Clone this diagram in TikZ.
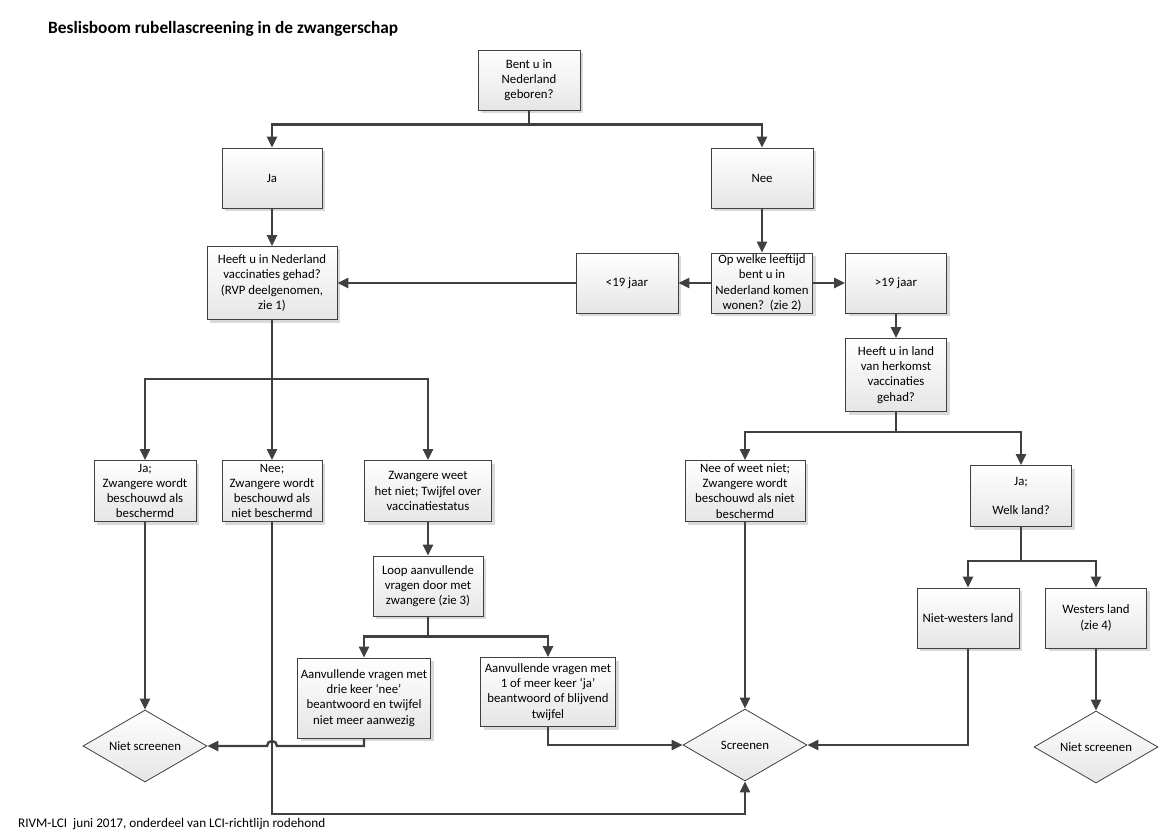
\documentclass[tikz,border=0pt]{standalone}
\usepackage{fontspec}
\setmainfont{Carlito}
\usetikzlibrary{shapes.geometric,arrows.meta,shadows,calc}

\tikzset{
  box/.style={draw=black!75, line width=0.8pt, top color=white, bottom color=black!10,
    drop shadow={shadow xshift=3pt, shadow yshift=-3pt, fill=black!15, opacity=1},
    align=center, inner xsep=2pt, inner ysep=0pt, font=\fontsize{12.8}{15.2}\selectfont},
  keuze/.style={diamond, draw=black!75, line width=0.8pt, top color=white, bottom color=black!10,
    aspect=1.72, inner sep=0pt, minimum width=124pt, minimum height=72pt,
    font=\fontsize{12.8}{15.2}\selectfont},
  lijn/.style={draw=black!75, line width=2.4pt},
  pijl/.style={lijn, -{Triangle[length=11pt,width=10pt]}},
}

\begin{document}
\begin{tikzpicture}[x=1pt,y=-1pt]
\useasboundingbox (0,0) rectangle (1159,834);
\node[anchor=west, inner sep=0pt, font=\fontsize{17.3}{20}\selectfont\bfseries] (titel) at (48,29) {Beslisboom rubellascreening in de zwangerschap};
\node[anchor=west, inner sep=0pt, font=\fontsize{13.2}{15}\selectfont] (voet) at (18,824) {RIVM-LCI\ \ juni 2017, onderdeel van LCI-richtlijn rodehond};

% eerste vraag
\node[box, minimum width=102pt, minimum height=60pt] (geboren) at (529,80) {Bent u in\\Nederland\\geboren?};
\node[box, minimum width=100pt, minimum height=60pt] (ja) at (272,178) {Ja};
\node[box, minimum width=102pt, minimum height=60pt] (nee) at (762,178) {Nee};

% linker tak
\node[box, minimum width=130pt, minimum height=73pt] (heeftNL) at (272,283) {Heeft u in Nederland\\vaccinaties gehad?\\(RVP deelgenomen,\\zie 1)};
\node[box, minimum width=102pt, minimum height=61pt] (beschermd) at (145,491) {Ja;\\Zwangere wordt\\beschouwd als\\beschermd};
\node[box, minimum width=100pt, minimum height=61pt] (nietbeschermd) at (272,491) {Nee;\\Zwangere wordt\\beschouwd als\\niet beschermd};
\node[box, minimum width=127pt, minimum height=61pt] (weetniet) at (428,491) {Zwangere weet\\het niet; Twijfel over\\vaccinatiestatus};
\node[box, minimum width=110pt, minimum height=60pt] (loop) at (428,586) {Loop aanvullende\\vragen door met\\zwangere (zie 3)};
\node[box, minimum width=133pt, minimum height=80pt] (drienee) at (364,698) {Aanvullende vragen met\\drie keer ‘nee’\\beantwoord en twijfel\\niet meer aanwezig};
\node[box, minimum width=135pt, minimum height=69pt] (meerja) at (548,692) {Aanvullende vragen met\\1 of meer keer ‘ja’\\beantwoord of blijvend\\twijfel};

% rechter tak
\node[box, minimum width=102pt, minimum height=60pt] (jonger) at (627,283) {<19 jaar};
\node[box, minimum width=101pt, minimum height=60pt] (leeftijd) at (762,283) {Op welke leeftijd\\bent u in\\Nederland komen\\wonen?\ \ (zie 2)};
\node[box, minimum width=101pt, minimum height=60pt] (ouder) at (896,283) {>19 jaar};
\node[box, minimum width=101pt, minimum height=73pt] (herkomst) at (896,375) {Heeft u in land\\van herkomst\\vaccinaties\\gehad?};
\node[box, minimum width=120pt, minimum height=61pt] (neeweetniet) at (745,491) {Nee of weet niet;\\Zwangere wordt\\beschouwd als niet\\beschermd};
\node[box, minimum width=101pt, minimum height=61pt] (welkland) at (1021,496) {Ja;\\[14pt]Welk land?};
\node[box, minimum width=102pt, minimum height=60pt] (nietwesters) at (968,618) {Niet-westers land};
\node[box, minimum width=101pt, minimum height=60pt] (westers) at (1096,618) {Westers land\\(zie 4)};

% uitkomsten
\node[keuze] (nietL) at (145,746) {Niet screenen};
\node[keuze] (screen) at (745,745) {Screenen};
\node[keuze] (nietR) at (1096,747) {Niet screenen};

% verbindingen
\draw[lijn] (geboren.south) -- ++(0,14) coordinate (t1);
\draw[pijl] (t1) -| (ja.north);
\draw[pijl] (t1) -| (nee.north);
\draw[pijl] (ja.south) -- (heeftNL.north);
\draw[pijl] (nee.south) -- (leeftijd.north);
\draw[pijl] (leeftijd.west) -- (jonger.east);
\draw[pijl] (leeftijd.east) -- (ouder.west);
\draw[pijl] (jonger.west) -- (heeftNL.east);
\draw[pijl] (ouder.south) -- (herkomst.north);

\draw[lijn] (heeftNL.south) -- ++(0,59) coordinate (t2);
\draw[pijl] (t2) -| (beschermd.north);
\draw[pijl] (t2) -- (nietbeschermd.north);
\draw[pijl] (t2) -| (weetniet.north);
\draw[pijl] (weetniet.south) -- (loop.north);
\draw[lijn] (loop.south) -- ++(0,20) coordinate (t3);
\draw[pijl] (t3) -| (drienee.north);
\draw[pijl] (t3) -| (meerja.north);

\draw[lijn] (herkomst.south) -- ++(0,20) coordinate (t4);
\draw[pijl] (t4) -| (neeweetniet.north);
\draw[pijl] (t4) -| (welkland.north);
\draw[lijn] (welkland.south) -- ++(0,34) coordinate (t5);
\draw[pijl] (t5) -| (nietwesters.north);
\draw[pijl] (t5) -| (westers.north);

\draw[pijl] (beschermd.south) -- (nietL.north);
\draw[pijl] (drienee.south) |- ($(nietbeschermd.south |- nietL.east)+(5,0)$)
  arc[start angle=0, end angle=180, radius=5pt] -- (nietL.east);
\draw[pijl] (nietbeschermd.south) -- ++(0,292) -| (screen.south);
\draw[pijl] (meerja.south) |- (screen.west);
\draw[pijl] (neeweetniet.south) -- (screen.north);
\draw[pijl] (nietwesters.south) |- (screen.east);
\draw[pijl] (westers.south) -- (nietR.north);
\end{tikzpicture}
\end{document}
